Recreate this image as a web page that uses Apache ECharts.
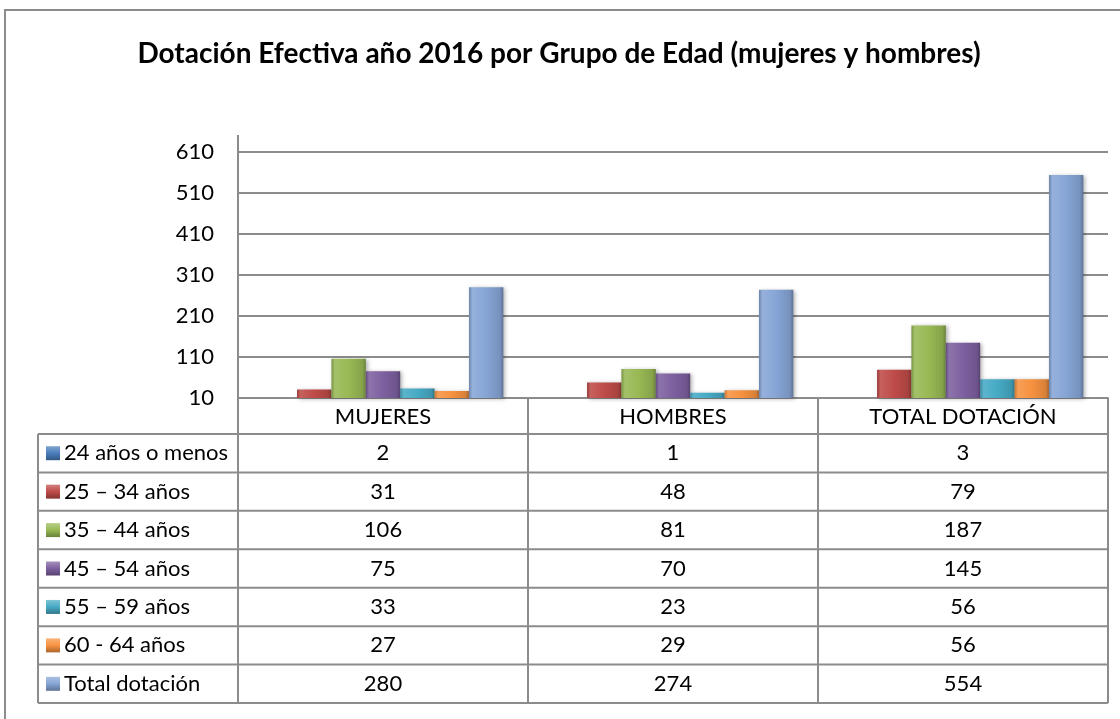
<!DOCTYPE html>
<html>
<head>
    <meta charset="utf-8">
    <title>Dotación Efectiva año 2016</title>
    <script src="https://cdn.jsdelivr.net/npm/echarts@6/dist/echarts.min.js"></script>
    <style>
        body { margin: 0; background: #fff; }
    </style>
</head>
<body>
<div id="main" style="width: 1120px;height:719px;"></div>
<script type="text/javascript">
    // datos del grafico
    var categorias = ['MUJERES', 'HOMBRES', 'TOTAL DOTACIÓN'];
    var grupos = ['24 años o menos', '25 – 34 años', '35 – 44 años', '45 – 54 años',
        '55 – 59 años', '60 - 64 años', 'Total dotación'];
    var g24 = [2, 1, 3];
    var g25 = [31, 48, 79];
    var g35 = [106, 81, 187];
    var g45 = [75, 70, 145];
    var g55 = [33, 23, 56];
    var g60 = [27, 29, 56];
    var totalDot = [280, 274, 554];
    var ticksY = [10, 110, 210, 310, 410, 510, 610];

    var valores = [g24, g25, g35, g45, g55, g60, totalDot];
    var colores = ['#4A7EBB', '#BE4B48', '#98B954', '#7D60A0', '#46AAC5', '#F69240', '#86A5D6'];

    var fuente = 'Lato, "Open Sans", sans-serif';
    var gris = '#8c8c8c';

    // posicion del grafico y de la tabla
    var gx = 238, gy = 152, gw = 870, gh = 246;
    var tablaIzq = 38, altoCab = 36, altoFila = 38.43;
    var colW = gw / categorias.length;

    function tono(hex, f) {
        var n = parseInt(hex.slice(1), 16);
        var r = (n >> 16) & 255, g = (n >> 8) & 255, b = n & 255;
        function c(v) {
            v = f < 0 ? v * (1 + f) : v + (255 - v) * f;
            return Math.round(Math.max(0, Math.min(255, v)));
        }
        return 'rgb(' + c(r) + ',' + c(g) + ',' + c(b) + ')';
    }

    function relleno(hex) {
        return new echarts.graphic.LinearGradient(0, 0, 1, 0, [
            {offset: 0, color: tono(hex, -0.2)},
            {offset: 0.1, color: tono(hex, 0.12)},
            {offset: 0.5, color: hex},
            {offset: 0.9, color: tono(hex, -0.12)},
            {offset: 1, color: tono(hex, -0.3)}
        ]);
    }

    var series = [];
    for (var i = 0; i < grupos.length; i++) {
        series.push({
            name: grupos[i],
            type: 'bar',
            data: valores[i],
            barGap: '0%',
            barCategoryGap: '17%',
            itemStyle: {
                color: relleno(colores[i]),
                shadowColor: 'rgba(0,0,0,0.3)',
                shadowBlur: 4,
                shadowOffsetX: 2,
                shadowOffsetY: 1
            }
        });
    }

    // tabla de datos bajo el eje
    var graficos = [];
    var tablaTop = gy + gh + altoCab;
    var tablaBajo = tablaTop + altoFila * grupos.length;
    var derecha = gx + gw;
    // marco exterior (solo arriba e izquierda se ven)
    graficos.push({
        type: 'polyline', shape: {points: [[5, 719], [5, 10], [1120, 10]]},
        style: {fill: null, stroke: gris, lineWidth: 2}
    });
    for (var k = 0; k <= grupos.length; k++) {
        var yy = tablaTop + altoFila * k;
        graficos.push({
            type: 'line', shape: {x1: tablaIzq, y1: yy, x2: derecha, y2: yy},
            style: {stroke: gris, lineWidth: 2}
        });
    }
    graficos.push({
        type: 'line', shape: {x1: tablaIzq, y1: tablaTop, x2: tablaIzq, y2: tablaBajo},
        style: {stroke: gris, lineWidth: 2}
    });
    graficos.push({
        type: 'line', shape: {x1: gx, y1: 135, x2: gx, y2: tablaBajo},
        style: {stroke: gris, lineWidth: 2}
    });
    for (var i = 0; i < grupos.length; i++) {
        var cy = tablaTop + altoFila * (i + 0.5);
        graficos.push({
            type: 'rect', shape: {x: 46, y: cy - 7, width: 14, height: 14},
            style: {
                fill: new echarts.graphic.LinearGradient(0, 0, 0, 1, [
                    {offset: 0, color: tono(colores[i], 0.3)},
                    {offset: 0.5, color: colores[i]},
                    {offset: 1, color: tono(colores[i], -0.3)}
                ])
            }
        });
        graficos.push({
            type: 'text', x: 64, y: cy,
            style: {
                text: grupos[i], font: '22px ' + fuente, fill: '#000',
                textVerticalAlign: 'middle', textAlign: 'left'
            }
        });
        for (var j = 0; j < categorias.length; j++) {
            graficos.push({
                type: 'text', x: gx + colW * (j + 0.5), y: cy,
                style: {
                    text: String(valores[i][j]), font: '22px ' + fuente, fill: '#000',
                    textVerticalAlign: 'middle', textAlign: 'center'
                }
            });
        }
    }

    var myChart = echarts.init(document.getElementById('main'));
    var option = {
        animation: false,
        title: {
            text: 'Dotación Efectiva año 2016 por Grupo de Edad (mujeres y hombres)',
            left: 554,
            top: 35,
            textAlign: 'center',
            textStyle: {fontFamily: fuente, fontSize: 28, fontWeight: 'bold', color: '#000'}
        },
        grid: {left: gx, top: gy, width: gw, height: gh, containLabel: false},
        xAxis: {
            type: 'category',
            data: categorias,
            axisLine: {lineStyle: {color: gris, width: 2}},
            axisTick: {show: true, length: tablaBajo - gy - gh, lineStyle: {color: gris, width: 2}},
            axisLabel: {
                margin: 8,
                fontFamily: fuente, fontSize: 22, color: '#000'
            }
        },
        yAxis: {
            type: 'value',
            min: ticksY[0],
            max: ticksY[ticksY.length - 1],
            interval: ticksY[1] - ticksY[0],
            axisLine: {show: true, lineStyle: {color: gris, width: 2}},
            axisTick: {show: false},
            splitLine: {lineStyle: {color: gris, width: 2}},
            axisLabel: {margin: 24, fontFamily: fuente, fontSize: 22, color: '#000'}
        },
        series: series,
        graphic: graficos
    };
    myChart.setOption(option);
</script>
</body>
</html>
